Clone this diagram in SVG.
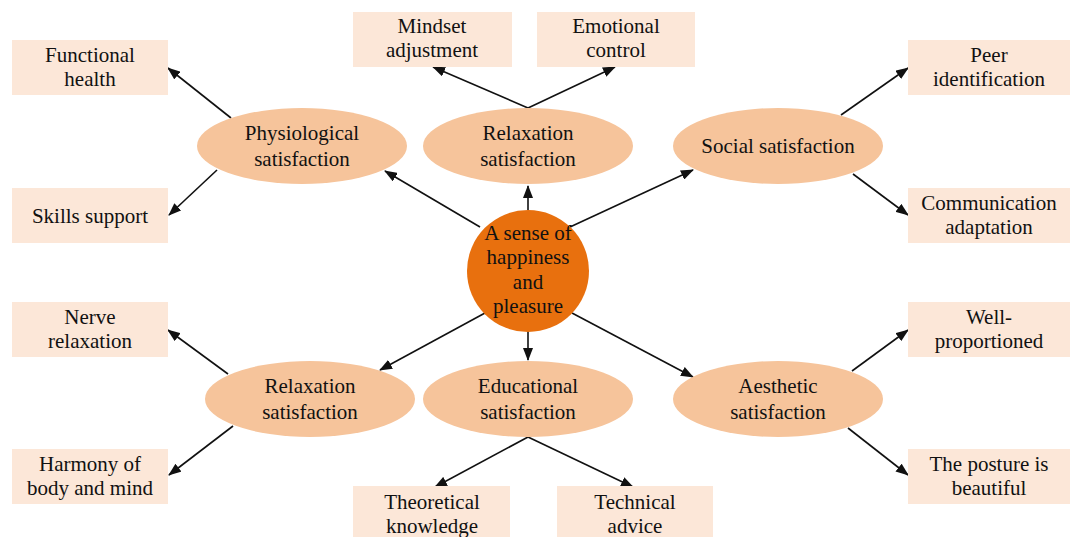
<svg xmlns="http://www.w3.org/2000/svg" width="1071" height="537" viewBox="0 0 1071 537">
<style>
.box{fill:#FCE7D8;}
.ell{fill:#F6C49B;}
.core{fill:#E8700E;}
text{font-family:"Liberation Serif","Times New Roman",serif;font-size:21px;fill:#111;text-anchor:middle;}
.conn line{stroke:#111;stroke-width:1.6;marker-end:url(#arr);}
</style>
<defs>
<marker id="arr" markerWidth="13" markerHeight="10" refX="12" refY="5" orient="auto" markerUnits="userSpaceOnUse">
<path d="M0,0 L13,5 L0,10 z" fill="#111"/>
</marker>
</defs>
<rect width="1071" height="537" fill="#fff"/>

<g class="conn" id="connectors">
<line x1="231" y1="118" x2="168" y2="68"/>
<line x1="217" y1="170" x2="169" y2="215"/>
<line x1="480" y1="227" x2="385" y2="171"/>
<line x1="528" y1="210" x2="528" y2="186"/>
<line x1="528" y1="108" x2="433" y2="67"/>
<line x1="528" y1="108" x2="615" y2="67"/>
<line x1="570" y1="227" x2="693" y2="170"/>
<line x1="841" y1="115" x2="908" y2="68"/>
<line x1="853" y1="174" x2="908" y2="215"/>
<line x1="485" y1="313" x2="380" y2="370"/>
<line x1="528" y1="331" x2="528" y2="360"/>
<line x1="572" y1="313" x2="693" y2="377"/>
<line x1="228" y1="374" x2="168" y2="330"/>
<line x1="233" y1="426" x2="169" y2="475"/>
<line x1="528" y1="437" x2="435" y2="487"/>
<line x1="528" y1="437" x2="633" y2="487"/>
<line x1="852" y1="371" x2="908" y2="330"/>
<line x1="848" y1="428" x2="908" y2="475"/>
</g>

<g id="core">
<circle class="core" cx="528" cy="271" r="61"/>
<text x="528" y="240">A sense of</text>
<text x="528" y="264">happiness</text>
<text x="528" y="289">and</text>
<text x="528" y="313">pleasure</text>
</g>

<g id="physiological">
<ellipse class="ell" cx="302" cy="146" rx="105" ry="38"/>
<text x="302" y="140">Physiological</text>
<text x="302" y="166">satisfaction</text>
</g>
<g id="relaxation-top">
<ellipse class="ell" cx="528" cy="146" rx="105" ry="38"/>
<text x="528" y="140">Relaxation</text>
<text x="528" y="166">satisfaction</text>
</g>
<g id="social">
<ellipse class="ell" cx="778" cy="146" rx="105" ry="38"/>
<text x="778" y="153">Social satisfaction</text>
</g>
<g id="relaxation-bottom">
<ellipse class="ell" cx="310" cy="399" rx="105" ry="38"/>
<text x="310" y="393">Relaxation</text>
<text x="310" y="419">satisfaction</text>
</g>
<g id="educational">
<ellipse class="ell" cx="528" cy="399" rx="105" ry="38"/>
<text x="528" y="393">Educational</text>
<text x="528" y="419">satisfaction</text>
</g>
<g id="aesthetic">
<ellipse class="ell" cx="778" cy="399" rx="105" ry="38"/>
<text x="778" y="393">Aesthetic</text>
<text x="778" y="419">satisfaction</text>
</g>

<g id="functional-health">
<rect class="box" x="12" y="40" width="156" height="55"/>
<text x="90" y="62">Functional</text>
<text x="90" y="86">health</text>
</g>
<g id="skills-support">
<rect class="box" x="12" y="188" width="156" height="55"/>
<text x="90" y="223">Skills support</text>
</g>
<g id="mindset-adjustment">
<rect class="box" x="353" y="12" width="159" height="55"/>
<text x="432" y="33">Mindset</text>
<text x="432" y="57">adjustment</text>
</g>
<g id="emotional-control">
<rect class="box" x="537" y="12" width="158" height="55"/>
<text x="616" y="33">Emotional</text>
<text x="616" y="57">control</text>
</g>
<g id="peer-identification">
<rect class="box" x="908" y="40" width="162" height="55"/>
<text x="989" y="62">Peer</text>
<text x="989" y="86">identification</text>
</g>
<g id="communication-adaptation">
<rect class="box" x="908" y="188" width="162" height="55"/>
<text x="989" y="210">Communication</text>
<text x="989" y="234">adaptation</text>
</g>
<g id="nerve-relaxation">
<rect class="box" x="12" y="302" width="156" height="55"/>
<text x="90" y="324">Nerve</text>
<text x="90" y="348">relaxation</text>
</g>
<g id="harmony">
<rect class="box" x="12" y="449" width="156" height="55"/>
<text x="90" y="471">Harmony of</text>
<text x="90" y="495">body and mind</text>
</g>
<g id="theoretical-knowledge">
<rect class="box" x="353" y="486" width="157" height="60"/>
<text x="432" y="509">Theoretical</text>
<text x="432" y="533">knowledge</text>
</g>
<g id="technical-advice">
<rect class="box" x="557" y="486" width="156" height="60"/>
<text x="635" y="509">Technical</text>
<text x="635" y="533">advice</text>
</g>
<g id="well-proportioned">
<rect class="box" x="908" y="302" width="162" height="55"/>
<text x="989" y="324">Well-</text>
<text x="989" y="348">proportioned</text>
</g>
<g id="posture">
<rect class="box" x="908" y="449" width="162" height="55"/>
<text x="989" y="471">The posture is</text>
<text x="989" y="495">beautiful</text>
</g>
</svg>
